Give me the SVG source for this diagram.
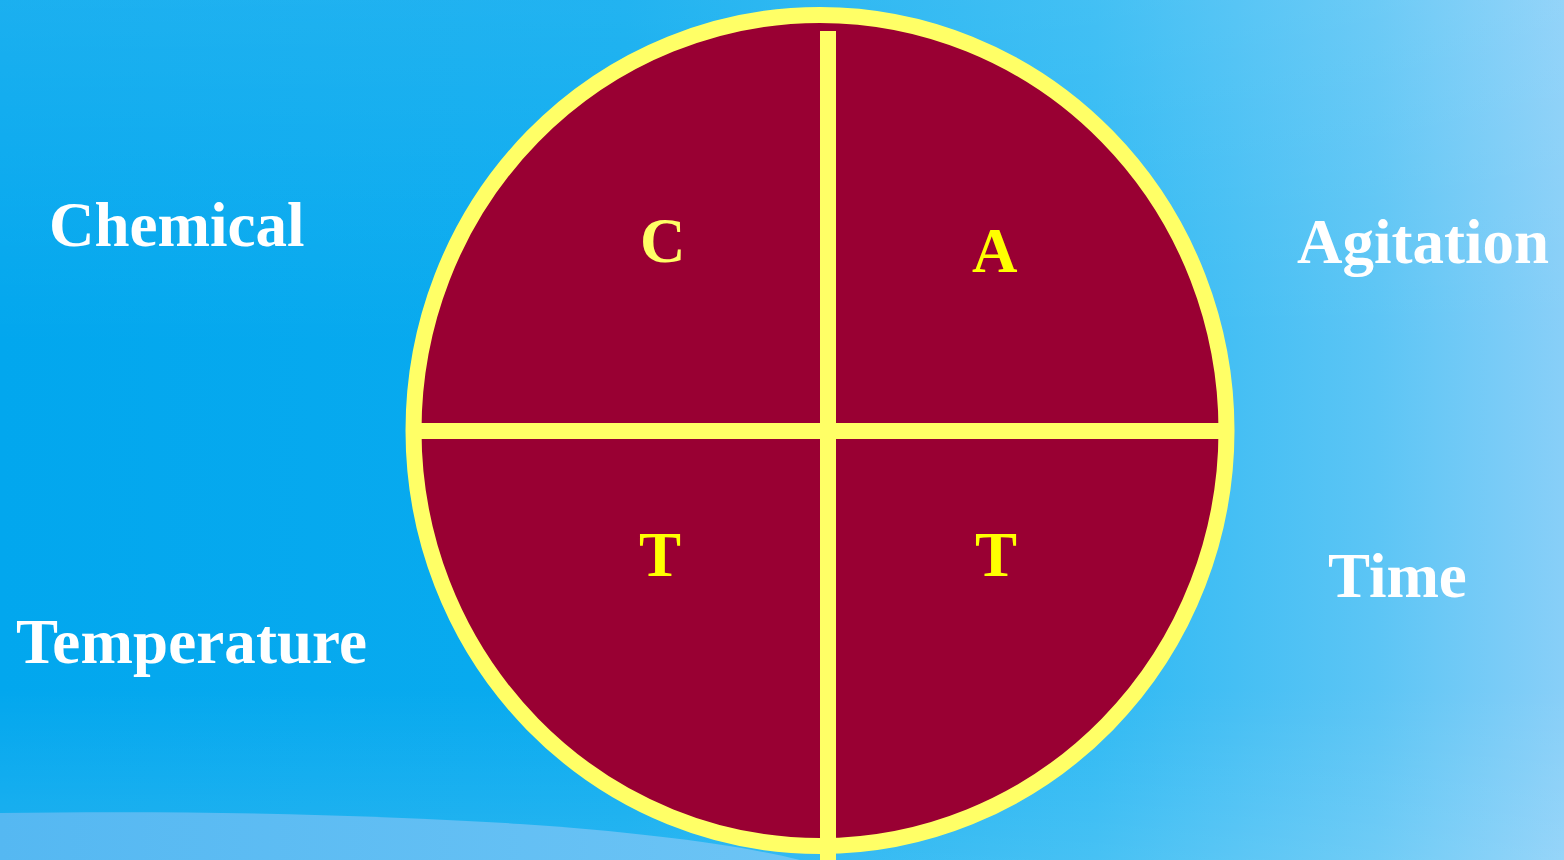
<svg xmlns="http://www.w3.org/2000/svg" width="1564" height="860" viewBox="0 0 1564 860">
<defs>
<linearGradient id="bg" x1="0" y1="0" x2="1" y2="0">
<stop offset="0" stop-color="#02A7EE"/>
<stop offset="0.4" stop-color="#0AABEF"/>
<stop offset="0.7" stop-color="#2EB9F3"/>
<stop offset="0.88" stop-color="#5CC5F5"/>
<stop offset="1" stop-color="#88CFF8"/>
</linearGradient>
<linearGradient id="sheen" x1="0" y1="0" x2="0" y2="1">
<stop offset="0" stop-color="#ffffff" stop-opacity="0.1"/>
<stop offset="0.4" stop-color="#ffffff" stop-opacity="0"/>
<stop offset="0.8" stop-color="#ffffff" stop-opacity="0"/>
<stop offset="1" stop-color="#ffffff" stop-opacity="0.12"/>
</linearGradient>
<linearGradient id="wave" x1="0" y1="0" x2="1" y2="0">
<stop offset="0" stop-color="#55B8F2"/>
<stop offset="1" stop-color="#6CC4F5"/>
</linearGradient>
<style>
.lbl{font-family:"Liberation Serif","Times New Roman",serif;font-weight:bold;font-size:63px;fill:#ffffff}
.ltr{font-family:"Liberation Serif","Times New Roman",serif;font-weight:bold;font-size:63px;fill:#FFFF00}
.bar{fill:#FFFF66}
</style>
</defs>
<rect x="0" y="0" width="1564" height="860" fill="url(#bg)"/>
<rect x="0" y="0" width="1564" height="860" fill="url(#sheen)"/>
<path d="M0,813 C200,810 380,815 520,824 C640,832 740,845 800,860 L0,860 Z" fill="url(#wave)"/>
<g id="wheel">
<ellipse cx="820" cy="430.5" rx="406.5" ry="415.5" fill="#990033" stroke="#FFFF66" stroke-width="16"/>
</g>
<g id="connectors">
<rect class="bar" x="820" y="31" width="16" height="829"/>
<rect class="bar" x="420" y="423" width="800" height="16"/>
</g>
<g id="node-C"><text class="ltr" x="640" y="262" style="fill:#FFFF66">C</text></g>
<g id="node-A"><text class="ltr" x="972" y="272">A</text></g>
<g id="node-T1"><text class="ltr" x="639" y="576">T</text></g>
<g id="node-T2"><text class="ltr" x="975" y="576">T</text></g>
<g id="label-chemical"><text class="lbl" x="49" y="246">Chemical</text></g>
<g id="label-agitation"><text class="lbl" x="1297" y="263">Agitation</text></g>
<g id="label-temperature"><text class="lbl" x="16" y="663" textLength="351">Temperature</text></g>
<g id="label-time"><text class="lbl" x="1328" y="597">Time</text></g>
</svg>
